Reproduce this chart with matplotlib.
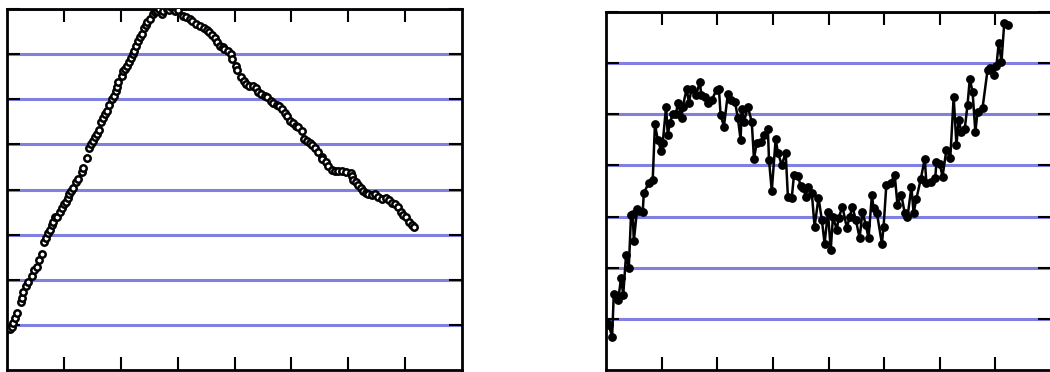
import numpy as np
import matplotlib
matplotlib.use('Agg')
import matplotlib.pyplot as plt

#left panel - open circles, rise then slow decline
left_x = [0.05,0.09,0.11,0.14,0.18,0.25,0.26,0.28,0.33,0.37,0.44,0.47,0.53,0.56,0.61,0.65,0.68,0.72,0.75,0.79,
          0.81,0.84,0.88,0.93,0.96,1.00,1.04,1.07,1.09,1.12,1.16,1.21,1.25,1.32,1.33,1.40,1.44,1.47,1.51,1.54,
          1.58,1.61,
          1.65,1.68,1.72,1.75,1.79,1.84,1.88,1.91,1.93,1.96,2.02,2.04,2.07,2.11,2.14,2.18,2.21,2.23,2.26,2.30,
          2.33,2.37,2.40,2.44,2.47,2.51,2.56,2.60,2.63,2.68,2.72,2.75,2.81,2.84,2.89,2.93,2.96,3.00,
          3.09,3.14,3.21,3.26,3.33,3.40,3.46,3.51,3.56,3.61,3.65,3.70,3.74,3.79,3.82,3.88,3.93,3.96,4.02,4.05,
          4.12,4.16,4.21,4.26,4.32,4.37,4.42,4.47,4.53,4.58,4.65,4.68,4.74,4.79,4.84,4.89,4.93,4.98,5.02,5.09,
          5.12,5.19,5.23,5.28,5.33,5.37,5.42,5.47,5.53,5.54,5.60,5.65,5.72,5.77,5.82,5.89,5.96,6.04,6.07,6.09,
          6.14,6.18,6.23,6.26,6.32,6.35,6.42,6.47,6.53,6.60,6.67,6.72,6.77,6.82,6.88,6.93,6.96,7.02,7.07,7.12,
          7.16]
left_y = [0.91,0.96,1.04,1.16,1.27,1.51,1.60,1.73,1.87,1.96,2.09,2.22,2.29,2.44,2.56,2.84,2.93,3.04,3.11,3.22,
          3.29,3.38,3.40,3.51,3.60,3.67,3.73,3.82,3.89,3.96,4.04,4.16,4.24,4.38,4.47,4.69,4.93,5.00,5.07,5.16,
          5.24,5.31,
          5.49,5.58,5.67,5.73,5.87,6.00,6.07,6.18,6.27,6.38,6.51,6.62,6.67,6.73,6.82,6.91,7.00,7.07,7.18,7.29,
          7.38,7.44,7.58,7.64,7.71,7.78,7.89,7.93,7.96,8.00,7.89,7.96,8.00,7.98,8.04,8.00,7.96,7.98,
          7.84,7.82,7.78,7.73,7.67,7.62,7.58,7.53,7.49,7.42,7.36,7.27,7.18,7.16,7.11,7.07,7.00,6.89,6.73,6.64,
          6.49,6.40,6.33,6.29,6.29,6.24,6.16,6.11,6.07,6.04,5.96,5.91,5.87,5.84,5.78,5.69,5.62,5.51,5.47,5.40,
          5.38,5.29,5.13,5.07,5.04,4.98,4.91,4.82,4.71,4.67,4.60,4.51,4.44,4.40,4.40,4.42,4.38,4.36,4.29,4.22,
          4.16,4.11,4.04,3.96,3.93,3.89,3.87,3.89,3.84,3.80,3.82,3.76,3.71,3.67,3.62,3.51,3.44,3.38,3.29,3.22,
          3.18]

#right panel - filled dots joined by a line, noisy hump then dip then rise
right_x = [0.02,0.05,0.11,0.14,0.22,0.27,0.31,0.36,0.41,0.45,0.48,0.50,0.56,0.59,0.66,0.68,0.77,0.84,0.88,0.93,
           0.99,1.02,1.08,1.11,1.15,1.20,1.26,1.29,1.36,1.38,1.45,1.49,1.54,1.62,1.69,1.71,1.78,1.83,1.90,1.99,
           2.03,2.06,2.12,2.19,2.24,2.32,2.37,2.42,2.44,2.48,2.55,2.62,2.66,2.71,2.78,2.84,2.91,2.93,2.98,3.05,
           3.09,3.16,3.23,3.27,3.34,3.38,3.45,3.50,3.55,3.59,3.63,3.70,3.75,3.82,3.88,3.93,3.99,4.04,4.08,4.15,
           4.18,4.25,4.33,4.38,4.43,4.49,4.56,4.61,4.67,4.72,4.78,4.81,4.87,4.96,4.99,5.04,5.12,5.19,5.24,5.31,
           5.37,5.42,5.49,5.53,5.58,5.66,5.73,5.76,5.85,5.92,5.94,6.00,6.05,6.12,6.19,6.25,6.30,6.34,6.39,6.45,
           6.50,6.54,6.59,6.64,6.68,6.77,6.86,6.91,6.97,7.02,7.06,7.11,7.16,7.22]
right_y = [0.92,0.88,0.65,1.49,1.37,1.80,1.47,2.25,2.00,3.03,3.05,2.52,3.15,3.11,3.09,3.46,3.66,3.72,4.81,4.50,
           4.29,4.44,5.15,4.60,4.83,5.01,5.01,5.23,4.93,5.15,5.50,5.23,5.50,5.38,5.64,5.38,5.34,5.23,5.28,5.48,
           5.50,4.99,4.76,5.40,5.28,5.24,4.93,4.50,5.11,4.85,5.15,4.85,4.13,4.44,4.46,4.60,4.72,4.11,3.50,4.52,
           4.25,4.01,4.25,3.39,3.37,3.82,3.80,3.60,3.56,3.39,3.58,3.46,2.80,3.37,2.94,2.47,3.09,2.35,2.99,2.74,
           2.97,3.19,2.78,2.99,3.19,2.94,2.58,3.09,2.84,2.58,3.42,3.17,3.07,2.47,2.80,3.62,3.66,3.82,3.23,3.42,
           3.07,2.99,3.58,3.07,3.35,3.74,4.13,3.66,3.68,3.76,4.07,4.03,3.78,4.31,4.15,5.34,4.40,4.89,4.66,4.72,
           5.19,5.69,5.44,4.66,5.05,5.13,5.87,5.91,5.77,5.95,6.40,6.03,6.79,6.75]

grid_col = '#8080e0'

fig = plt.figure(figsize=(10.5, 3.72), dpi=100)
ax1 = fig.add_axes([7/1050, 2/372, 455/1050, 361/372])
ax2 = fig.add_axes([606/1050, 2/372, 445/1050, 358/372])

#left
ax1.plot(left_x, left_y, 'o', ms=4.6, mfc='white', mec='black', mew=1.8, zorder=3)
ax1.set_xlim(0, 8)
ax1.set_ylim(0, 8)
ax1.set_yticks(np.arange(1, 9))

#right
ax2.plot(right_x, right_y, '-o', color='black', lw=1.8, ms=5.3, zorder=3)
ax2.set_xlim(0, 8)
ax2.set_ylim(0, 7)
ax2.set_yticks(np.arange(1, 8))

for ax in (ax1, ax2):
    ax.set_xticks(np.arange(1, 8))
    ax.grid(axis='y', color=grid_col, lw=2.2)
    ax.tick_params(direction='in', length=9.5, width=1.5, top=True, right=True,
                   labelbottom=False, labelleft=False)
    for s in ax.spines.values():
        s.set_linewidth(2)

fig.savefig('out.png', dpi=100)
